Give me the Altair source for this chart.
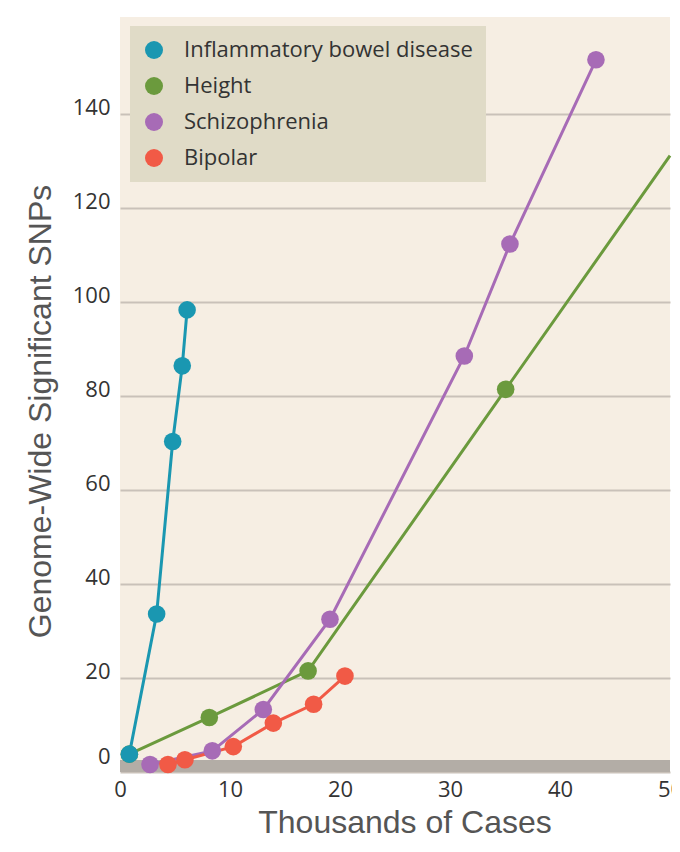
import altair as alt
import pandas as pd

series_order = ["Inflammatory bowel disease", "Height", "Schizophrenia", "Bipolar"]
series_colors = ["#1a97b1", "#6b9a3d", "#a76bb6", "#f15a46"]

ibd_x = [0.85, 3.33, 4.79, 5.66, 6.1]
ibd_y = [3.8, 33.6, 70.3, 86.4, 98.3]

height_x = [0.85, 8.12, 17.1, 35.06, 50.0]
height_y = [3.8, 11.6, 21.5, 81.4, 131.1]
height_marker = [True, True, True, True, False]

schizo_x = [2.73, 8.39, 13.03, 19.09, 31.3, 35.45, 43.27]
schizo_y = [1.6, 4.5, 13.3, 32.5, 88.5, 112.3, 151.5]

bipolar_x = [4.36, 5.9, 10.3, 13.94, 17.6, 20.45]
bipolar_y = [1.6, 2.6, 5.4, 10.4, 14.4, 20.4]

x_ticks = [0, 10, 20, 30, 40, 50]
y_ticks = [0, 20, 40, 60, 80, 100, 120, 140]

color_of = dict(zip(series_order, series_colors))

rows = []
def add(name, xs, ys, z, markers=None):
    for i, (a, b) in enumerate(zip(xs, ys)):
        rows.append({"series": name, "x": a, "y": b, "z": z, "col": color_of[name],
                     "marker": True if markers is None else markers[i]})

add("Height", height_x, height_y, 0, height_marker)
add("Schizophrenia", schizo_x, schizo_y, 1)
add("Bipolar", bipolar_x, bipolar_y, 2)
add("Inflammatory bowel disease", ibd_x, ibd_y, 3)
df = pd.DataFrame(rows)

band_df = pd.DataFrame({"x0": [0], "x1": [50], "y0": [0], "y1": [2.55]})

xscale = alt.Scale(domain=[0, 50], nice=False, zero=False)
yscale = alt.Scale(domain=[0, 160.6], nice=False, zero=False)

x_axis = alt.Axis(values=x_ticks, grid=False, ticks=False, tickSize=0, domain=False,
                  labelFont="Open Sans", labelFontSize=22, labelColor="#333333",
                  labelBaseline="alphabetic", labelPadding=24, labelFlush=False,
                  title="Thousands of Cases", titleFont="Liberation Sans", titleFontSize=32,
                  titleFontWeight="normal", titleColor="#555555",
                  titleX=284.5, titleY=60, titleAlign="center", titleBaseline="alphabetic")

y_axis = alt.Axis(values=y_ticks, grid=True, gridColor="#c9c1b9", gridWidth=2,
                  ticks=False, tickSize=0, domain=False,
                  labelFont="Open Sans", labelFontSize=22, labelColor="#333333",
                  labelBaseline="alphabetic", labelPadding=10,
                  labelOffset={"condition": {"test": "datum.value === 0", "value": -9}, "value": 1},
                  title="Genome-Wide Significant SNPs", titleFont="Liberation Sans",
                  titleFontSize=32, titleFontWeight="normal", titleColor="#555555",
                  titleX=-70, titleY=394, titleAlign="center", titleBaseline="alphabetic")

band = alt.Chart(band_df).mark_rect(color="#b3ada6").encode(
    x=alt.X("x0:Q", scale=xscale, axis=x_axis),
    x2="x1:Q",
    y=alt.Y("y0:Q", scale=yscale, axis=y_axis),
    y2="y1:Q",
)

lines = alt.Chart(df).mark_line(strokeWidth=3).encode(
    x=alt.X("x:Q", scale=xscale),
    y=alt.Y("y:Q", scale=yscale),
    stroke=alt.Stroke("col:N", scale=None),
    detail="series:N",
    order="x:Q",
)

points = alt.Chart(df).transform_filter("datum.marker").mark_circle(size=310, opacity=1).encode(
    x=alt.X("x:Q", scale=xscale),
    y=alt.Y("y:Q", scale=yscale),
    color=alt.Color("series:N", scale=alt.Scale(domain=series_order, range=series_colors),
                    legend=alt.Legend(orient="none", legendX=10, legendY=9, title=None,
                                      fillColor="#e0dbc7", padding=13, symbolSize=324,
                                      symbolType="circle", symbolOpacity=1,
                                      labelFont="Open Sans", labelFontSize=22, labelLimit=500,
                                      labelColor="#333333", labelOffset=19, rowPadding=14)),
    order="z:Q",
)

chart = alt.layer(band, lines, points).properties(
    width=550, height=755,
    autosize=alt.AutoSizeParams(type="none"),
    padding={"left": 112, "top": 9, "right": 2, "bottom": 70},
    background="#ffffff",
).configure_view(fill="#f6eee3", strokeWidth=0)

chart.save("out.html", embed_options={"renderer": "svg", "actions": False})
